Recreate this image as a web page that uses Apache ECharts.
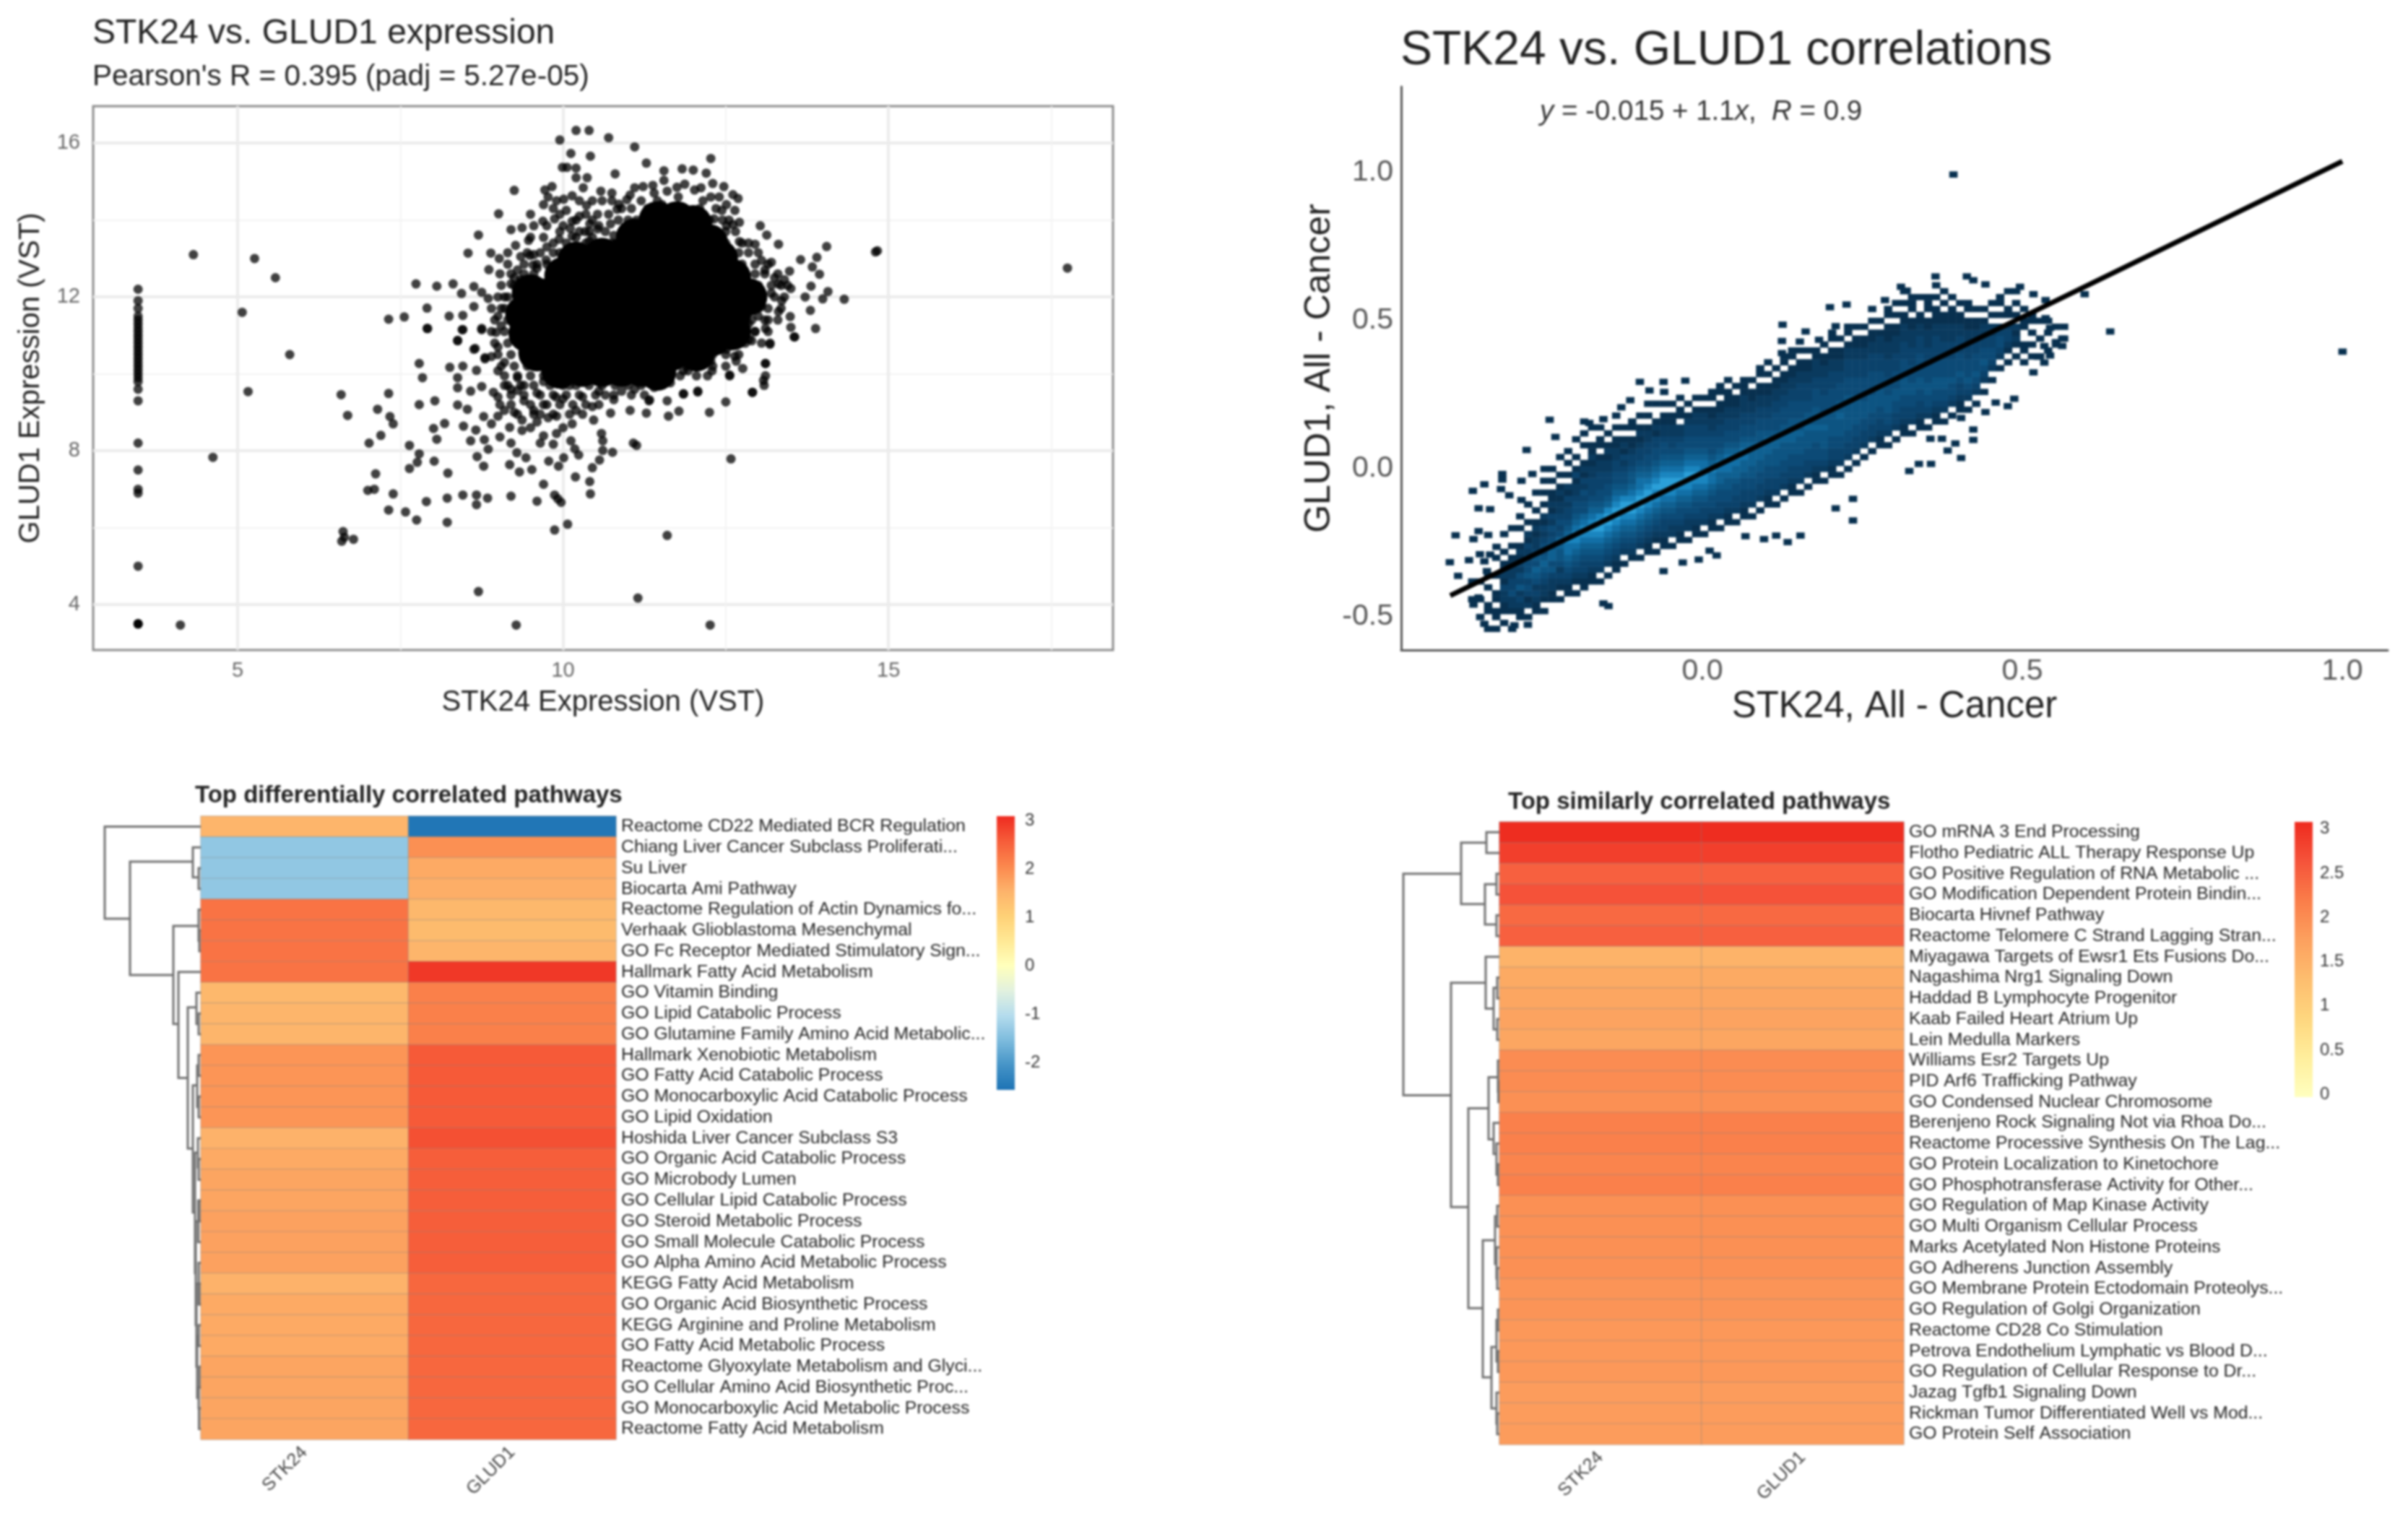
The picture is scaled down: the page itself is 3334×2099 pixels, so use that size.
<!DOCTYPE html>
<html><head><meta charset="utf-8">
<style>html,body{margin:0;padding:0;background:#fff}#c{width:3334px;height:2099px;filter:blur(1.4px)}</style>
<script src="https://cdn.jsdelivr.net/npm/echarts@6/dist/echarts.min.js"></script>
</head><body><div id="c"></div>
<script>
// ---------- Panel A: expression scatter ----------
const exprXTicks=[5,10,15], exprXMinor=[7.5,12.5,17.5], exprYTicks=[4,8,12,16], exprYMinor=[6,10,14];
const zeroColumnX=3.47;
const zeroColumnY=[12.2,11.9,11.7,11.5,11.4,11.3,11.2,11.1,11.0,10.9,10.8,10.7,10.6,10.5,10.4,10.3,10.2,10.1,10.0,9.9,9.8,9.6,9.3,8.2,7.5,7.0,6.9,5.0,3.5,3.5,3.5];
const exprOutliers=[[4.32,13.1],[5.26,13.0],[5.58,12.5],[5.07,11.6],[5.8,10.5],[5.16,9.54],[4.62,7.83],[4.12,3.47],[9.28,3.47],[12.26,3.47],[8.7,4.34],[11.15,4.17],[11.6,5.8],[14.8,13.17],[14.83,13.2],[17.75,12.75],[14.32,11.94],[6.59,9.46],[6.69,8.92],[6.62,5.9],[6.64,5.75],[6.6,5.65],[6.78,5.7]];
const exprFringeLow=[[7.91,11.18],[8.38,10.86],[8.46,11.15],[8.75,11.15],[8.63,10.64],[8.8,10.39],[7.79,10.27],[7.84,9.9],[8.26,10.17],[8.46,10.2],[8.67,10.09],[8.38,9.9],[8.38,9.64],[8.58,9.55],[8.75,9.67],[8.93,9.52],[9.03,9.2],[7.32,9.49],[7.15,9.08],[7.79,9.2],[8.03,9.3],[8.38,9.19],[8.53,9.08],[7.34,8.89],[7.39,8.7],[7.2,8.4],[7.02,8.2],[8.18,8.71],[8.01,8.58],[8.06,8.3],[8.47,8.64],[8.66,8.54],[8.78,8.89],[8.58,8.26],[8.79,8.29],[7.64,8.14],[7.79,7.92],[7.76,7.7],[7.64,7.54],[8.02,7.73],[8.23,7.42],[7.12,7.4],[7.1,7.0],[7.0,6.97],[7.39,6.88],[7.32,6.46],[7.58,6.41],[7.75,6.2],[7.9,6.68],[8.22,6.14],[8.22,6.77],[8.46,6.85],[8.67,6.85],[8.67,6.6],[8.84,6.77],[9.2,6.82],[9.6,6.69],[9.87,6.85],[9.97,6.66],[9.92,6.75],[9.87,5.94],[10.07,6.09],[9.7,7.13],[10.19,7.32],[10.42,6.88],[10.41,7.2],[10.45,7.56],[10.56,7.76],[10.61,8.01],[10.76,7.96],[11.13,8.14],[11.08,8.2],[10.59,8.45],[10.61,8.26],[10.47,8.8],[10.24,7.89],[10.18,8.05],[10.12,8.26],[10.01,7.82],[9.93,7.6],[9.78,7.73],[9.52,7.51],[9.33,7.45],[9.18,7.64],[9.43,7.82],[9.29,7.95],[8.78,7.6],[8.68,7.85],[8.85,8.04],[9.03,8.36],[9.18,8.61],[9.37,8.53],[9.2,8.2],[9.65,8.2],[9.85,8.17],[9.7,8.39],[9.77,8.86],[10.14,8.7],[9.37,8.8],[9.1,9.05],[11.03,9.05],[11.28,8.98],[11.32,9.3],[10.78,9.33],[10.73,8.98],[11.62,8.9],[11.78,9.03],[12.25,9.0],[12.5,9.27],[12.91,9.52],[13.09,9.7],[13.11,9.95],[12.56,9.95],[12.07,9.53],[11.85,9.48],[12.58,7.79],[13.11,10.27],[13.18,10.77],[13.56,10.96],[13.88,11.18],[12.9,10.86],[12.64,10.46],[12.29,10.08],[11.85,10.08],[11.65,9.77],[9.0,9.4],[9.2,9.6],[9.4,9.3],[9.55,9.05],[9.6,9.5],[9.75,9.2],[9.9,8.9],[10.0,9.35],[10.2,9.05],[10.3,9.4],[10.45,9.15],[10.55,9.55],[9.5,8.6],[9.6,8.75],[9.9,8.45],[10.0,8.6],[9.25,9.0],[8.9,8.7],[9.0,8.9],[9.4,9.7],[9.7,9.8],[10.1,9.7],[10.4,9.7],[10.9,9.55],[11.1,9.6],[11.4,9.65],[11.6,9.3]];
const exprFringeHigh=[[13.03,13.85],[13.13,13.61],[12.95,13.37],[13.31,13.37],[14.05,13.31],[13.65,12.97],[13.9,13.03],[13.83,12.78],[13.94,12.59],[13.48,12.67],[13.81,12.28],[14.07,12.14],[13.72,12.0],[13.99,11.95],[13.31,12.34],[13.36,11.9],[13.5,12.22],[13.31,11.62],[13.49,11.49],[13.8,11.65],[13.5,11.21],[13.55,10.96],[13.18,10.8],[13.11,11.18],[12.86,10.9],[12.71,11.09],[13.11,10.27],[13.08,9.83],[12.91,9.52],[12.56,9.97],[12.07,9.55],[12.61,14.66],[12.69,14.56],[12.47,14.87],[12.12,14.84],[11.87,14.93],[11.55,15.03],[11.38,14.9],[11.1,14.84],[10.58,14.75],[10.31,14.84],[9.83,14.87],[9.72,14.78],[9.77,14.6],[10.01,14.54],[10.14,14.63],[10.36,14.38],[10.53,14.15],[10.86,14.41],[10.98,14.53],[9.69,13.97],[9.87,14.03],[10.14,13.97],[10.11,13.78],[10.41,13.9],[10.73,13.9],[12.61,13.88],[12.71,13.94],[12.51,13.85],[12.64,14.25],[12.44,14.25],[12.32,14.03],[12.71,13.44],[10.2,16.33],[10.4,16.33],[10.7,16.14],[9.95,16.08],[11.1,15.9],[10.12,15.73],[10.42,15.66],[11.28,15.48],[12.27,15.6],[10.06,15.37],[9.99,15.37],[10.2,15.35],[10.8,15.2],[11.55,15.28],[11.83,15.33],[12.0,15.3],[12.2,15.22],[10.2,15.1],[10.37,15.1],[9.25,14.77],[9.01,14.16],[8.7,13.61],[8.54,13.14],[8.89,13.14],[9.2,13.75],[9.37,13.8],[9.47,13.47],[9.27,13.34],[9.02,13.0],[9.15,13.15],[8.86,12.71],[8.63,12.27],[8.44,12.09],[8.31,12.34],[8.06,12.28],[7.74,12.34],[8.75,12.12],[8.85,11.96],[8.63,11.75],[8.25,11.5],[8.46,11.52],[7.91,11.71],[7.92,11.18],[7.32,11.42],[7.56,11.48],[8.75,11.18],[8.38,10.87],[8.45,11.15],[8.65,10.66],[8.8,10.42],[9.03,12.6],[9.2,12.34],[9.49,13.08],[9.74,12.96],[9.3,12.7],[9.54,12.83],[9.0,11.5],[8.97,11.08],[8.9,10.45],[9.0,10.08],[9.1,9.7],[9.3,9.57],[9.89,9.4],[10.78,9.45],[11.33,9.32],[11.85,9.48],[11.62,9.83],[11.92,10.08],[12.27,10.33],[12.51,10.64],[12.22,9.95],[12.66,10.33],[12.76,10.14],[9.94,13.5],[10.14,13.58],[10.34,13.7],[10.53,13.77],[10.63,13.33],[10.44,13.2],[10.78,13.6],[11.03,13.77],[11.13,14.0],[11.28,14.2],[11.52,14.4],[11.77,14.6],[12.02,14.78],[12.27,14.6],[12.51,14.4],[10.83,14.28],[11.03,14.65],[11.23,14.87],[9.75,13.3],[9.95,13.15],[10.2,13.3],[10.4,13.45],[9.85,14.3],[10.05,14.25],[10.25,14.1],[9.7,14.4],[10.6,14.5],[10.75,14.7],[11.4,14.7],[11.6,14.75],[11.75,14.85],[12.3,14.95],[12.15,14.5],[12.4,14.6],[9.55,13.1],[9.35,13.05],[9.6,12.75],[9.25,12.5],[9.1,12.0],[9.05,11.7],[9.05,11.25],[9.0,10.7],[9.1,10.3],[9.3,9.9],[13.2,12.9],[13.1,12.7],[13.25,12.5],[13.05,12.95],[13.2,12.1],[13.0,11.5],[13.05,11.75],[13.15,11.4],[12.95,11.1],[12.85,11.3]];
// dense ring around the core: [y, [x, x, ...]]
const exprHaloRows=[[14.5,[9.9,10.25,10.45,10.75,11.2,11.45]],[14.3,[10.9,11.05,11.3,11.55,11.75,12.1,12.35]],[14.15,[9.5,9.95,10.35,10.7]],[14.0,[10.2,10.45,10.85,11.0,12.25,12.45,12.55]],[13.85,[9.55,9.75,10.0,10.55]],[13.7,[9.95,10.25,10.4,10.65,10.9,12.5,12.65]],[13.55,[9.5,9.7,10.2,10.45]],[13.4,[9.85,10.05,10.35,10.55,10.75,12.5,12.75,12.85]],[13.15,[9.45,9.65,9.85,10.05,10.25,12.7,12.85,13.0]],[12.85,[9.15,9.4,9.6,9.75,12.75,12.95,13.15]],[12.6,[9.2,9.4,9.55,12.95,13.1,13.3]],[12.45,[9.35,9.5,13.4]],[12.3,[9.05,9.25,9.4,13.0,13.2,13.35,13.45]],[12.0,[9.0,9.15,9.3,13.05,13.25,13.4]],[11.7,[8.9,9.1,9.25,13.0,13.15,13.35]],[11.4,[8.95,9.15,9.3,12.9,13.1,13.3]],[11.1,[8.9,9.1,9.3,12.7,12.95,13.15]],[10.8,[8.95,9.15,9.35,12.6,12.8,13.05]],[10.5,[9.0,9.2,9.4,9.55,12.3,12.5,12.7]],[10.2,[9.05,9.25,9.45,9.7,9.9,11.9,12.1,12.3,12.5]],[9.95,[9.1,9.3,9.5,9.7,9.95,10.15,11.45,11.65,11.8,12.05]],[9.7,[9.15,9.35,9.55,9.8,10.0,10.2,10.6,10.8,11.0,11.2,11.45]],[9.45,[9.2,9.4,9.65,9.85,10.05,10.25,10.5,10.65,11.05,11.25]],[9.2,[9.2,9.5,9.7,9.95,10.15,10.35,10.55]],[8.95,[9.3,9.55,9.65,9.85,10.1,10.3]]];
const exprCore=[[11.45,14.0],[11.75,14.0],[12.0,13.9],[11.1,13.55],[11.4,13.55],[11.7,13.55],[12.0,13.5],[12.25,13.4],[10.2,12.95],[10.6,13.05],[10.9,13.05],[11.2,13.05],[11.5,13.05],[11.8,13.05],[12.1,13.05],[12.4,13.0],[10.0,12.55],[10.3,12.55],[10.6,12.55],[10.9,12.55],[11.2,12.55],[11.5,12.55],[11.8,12.55],[12.1,12.55],[12.4,12.55],[12.6,12.5],[9.5,12.1],[9.65,12.0],[9.95,12.05],[10.25,12.05],[10.55,12.05],[10.85,12.05],[11.15,12.05],[11.45,12.05],[11.75,12.05],[12.05,12.05],[12.35,12.05],[12.65,12.05],[12.85,12.0],[9.4,11.55],[9.6,11.5],[9.9,11.55],[10.2,11.55],[10.5,11.55],[10.8,11.55],[11.1,11.55],[11.4,11.55],[11.7,11.55],[12.0,11.55],[12.3,11.55],[12.6,11.55],[9.45,11.05],[9.65,11.05],[9.95,11.05],[10.25,11.05],[10.55,11.05],[10.85,11.05],[11.15,11.05],[11.45,11.05],[11.75,11.05],[12.05,11.05],[12.3,10.95],[12.6,11.1],[9.6,10.55],[9.85,10.55],[10.15,10.55],[10.45,10.55],[10.75,10.55],[11.05,10.55],[11.35,10.55],[11.65,10.55],[12.05,10.55],[9.95,10.1],[10.3,10.15],[10.6,10.15],[10.9,10.15],[11.2,10.15],[11.45,10.05]];

// ---------- Panel B: correlation density ----------
const corrXTicks=[0,0.5,1], corrYTicks=[-0.5,0,0.5,1];
const fitLine=[[-0.394,-0.428],[1.0,1.038]];
const densityLevelColors=['#08304f','#0a3a5e','#0b426b','#0c4a76','#0d5482','#0f6091','#126fa6','#1a85bf','#2a9fd8'];
const densityX0=-0.36, densityY0=-0.56, densityDX=0.0125, densityDY=0.02;
// one entry per x bin: first y bin, then a density digit per y bin (0 = empty)
const densityColumns=[[6,"1001"],[3,"10010010"],[1,"1001100101"],[1,"10110110010010"],[2,"1011223122101001"],[1,"100122433221101001"],[2,"0112325342312100101"],[3,"10213435443231201001"],[3,"0112324564532212101001"],[4,"10122345654432312010101"],[5,"011223546654342312110101"],[6,"1012324556643432212101001"],[6,"01123456778654332312010101"],[7,"101234567887654432213101001"],[8,"11233456788764434231210010101"],[8,"0112345678987654333221211001"],[9,"1023456789986544333221011 01".replace(" ","")],[10,"1023456789986544332212101"],[11,"112345678998765443322110101"],[12,"102345678998654432312101"],[12,"0123456789987655433211011"],[13,"1023456789987765433212101"],[13,"011234567899876544332210101"],[14,"101234567889876544331210 01".replace(" ","")],[14,"0112334567899876544322110101"],[15,"10223456789987654332211010"],[15,"011234456789876544322011010"],[16,"1022345678898765443321010"],[16,"01123445678987654433221010"],[17,"102334567887765443322101"],[17,"0112344567786544432211011"],[18,"1023344566776544332211011"],[18,"01123445567776544332211101"],[19,"102334456677654433221101"],[19,"0112334456677654433222111"],[20,"102334455666654433221101"],[21,"1023344556665544332211011"],[21,"01123344556665443322110101"],[22,"102334455566544433221101"],[23,"1023344555665444332211011"],[23,"01123344556655444332211011"],[24,"1023344555655444333221101"],[25,"102334455565544333221101"],[25,"0112344455655544433222110"],[26,"102344555655444333221101"],[26,"01123344555554443332211011"],[27,"102334455565544433221101"],[28,"1023344555555444333221011"],[29,"102334455555444333221101"],[30,"10233445554444333221101"],[31,"1023344555444433322110101"],[31,"01123344555444333222101"],[32,"102344555444333222111011"],[33,"102334455444333222110101"],[33,"01123344555444333222110101"],[34,"102334455444333222110111"],[34,"011233445544443332211001"],[35,"10234455444333222110111"],[35,"0112344554443333221110101"],[36,"10234455444333222110101"],[37,"102344544433322211101"],[37,"01123345444333221101"],[38,"1023454443332211011"],[39,"10234544433221101"],[41,"1023454433221010"],[43,"10234433220101"],[45,"1023443201011"],[46,"1012332011001"],[47,"101212010101"],[46,"1011001101"],[47,"10101011"],[46,"01001001"],[48,"100101"],[49,"1001"],[50,"101"]];
const densityStrays=[[0.392,0.994],[0.637,0.464],[1.0,0.396],[0.597,0.59],[-0.239,0.166],[-0.275,0.064],[-0.313,-0.017],[-0.313,-0.036],[-0.341,-0.052],[-0.359,-0.074],[-0.315,-0.068],[-0.283,-0.04],[-0.266,-0.017],[-0.247,0],[-0.35,-0.133],[-0.332,-0.136],[-0.302,-0.089],[-0.283,-0.105],[-0.386,-0.224],[-0.35,-0.21],[-0.335,-0.223],[-0.358,-0.237],[-0.322,-0.263],[-0.348,-0.288],[-0.332,-0.289],[-0.341,-0.312],[-0.395,-0.315],[-0.365,-0.308],[-0.382,-0.361],[-0.337,-0.345],[-0.358,-0.458],[-0.35,-0.434],[-0.341,-0.523],[-0.294,-0.528],[-0.273,-0.526],[-0.147,-0.463],[-0.155,-0.454],[-0.061,-0.345],[0.022,-0.292],[0.011,-0.276],[-0.006,-0.306],[-0.031,-0.316],[0.153,-0.225],[0.133,-0.247],[0.115,-0.225],[0.096,-0.237],[0.067,-0.227],[-0.098,0.294],[-0.061,0.294],[-0.027,0.298],[-0.177,0.155],[-0.23,0.108],[-0.155,0.168],[-0.127,0.208],[-0.113,0.232],[-0.083,0.265],[0.364,0.65],[0.413,0.65],[0.423,0.637],[0.442,0.623],[0.496,0.615],[0.517,0.59],[0.536,0.57],[0.536,0.509],[0.543,0.476],[0.562,0.44],[0.552,0.428],[0.562,0.415],[0.534,0.415],[0.543,0.383],[0.524,0.379],[0.534,0.359],[0.517,0.326],[0.487,0.237],[0.477,0.212],[0.458,0.224],[0.442,0.192],[0.423,0.133],[0.423,0.098],[0.404,0.172],[0.395,0.086],[0.404,0.037],[0.383,0.062],[0.357,0.017],[0.338,0.017],[0.323,-0.007],[0.374,0.102],[0.356,0.102],[0.235,-0.101],[0.208,-0.133],[0.235,-0.174],[0.285,0.57],[0.225,0.555],[0.199,0.546],[0.161,0.464],[0.125,0.487],[0.208,0.482],[0.152,0.43],[0.124,0.432],[0.124,0.391],[0.182,0.436],[0.31,0.615],[0.319,0.602]];

// ---------- Panel C: differential pathways ----------
const heatColumns=['STK24','GLUD1'];
const diffPathways=['Reactome CD22 Mediated BCR Regulation','Chiang Liver Cancer Subclass Proliferati...','Su Liver','Biocarta Ami Pathway','Reactome Regulation of Actin Dynamics fo...','Verhaak Glioblastoma Mesenchymal','GO Fc Receptor Mediated Stimulatory Sign...','Hallmark Fatty Acid Metabolism','GO Vitamin Binding','GO Lipid Catabolic Process','GO Glutamine Family Amino Acid Metabolic...','Hallmark Xenobiotic Metabolism','GO Fatty Acid Catabolic Process','GO Monocarboxylic Acid Catabolic Process','GO Lipid Oxidation','Hoshida Liver Cancer Subclass S3','GO Organic Acid Catabolic Process','GO Microbody Lumen','GO Cellular Lipid Catabolic Process','GO Steroid Metabolic Process','GO Small Molecule Catabolic Process','GO Alpha Amino Acid Metabolic Process','KEGG Fatty Acid Metabolism','GO Organic Acid Biosynthetic Process','KEGG Arginine and Proline Metabolism','GO Fatty Acid Metabolic Process','Reactome Glyoxylate Metabolism and Glyci...','GO Cellular Amino Acid Biosynthetic Proc...','GO Monocarboxylic Acid Metabolic Process','Reactome Fatty Acid Metabolism'];
const diffStk24=[1.5,-1.35,-1.35,-1.35,2.3,2.3,2.3,2.3,1.45,1.5,1.5,1.9,1.9,1.9,1.9,1.55,1.65,1.7,1.7,1.75,1.75,1.75,1.55,1.65,1.65,1.65,1.7,1.7,1.7,1.7];
const diffGlud1=[-2.5,1.95,1.65,1.6,1.45,1.4,1.5,2.95,2.15,2.15,2.15,2.6,2.6,2.6,2.6,2.7,2.55,2.55,2.55,2.55,2.55,2.55,2.45,2.45,2.45,2.45,2.45,2.45,2.45,2.45];
const diffBarRange=[-2.56,3.09], diffBarTicks=[-2,-1,0,1,2,3];
const diffColors=['#1c72b4','#4594c7','#7dbbdd','#b5dced','#e2f1de','#ffffbb','#ffe894','#fed076','#fdb26a','#fb874d','#f65c39','#ee2a20'];
// [node height, top row, top child height, bottom row, bottom child height]
const diffDendro=[[133,0.5,0,4.94,98],[98,2.19,11,7.65,38],[11,1.5,0,2.95,3],[3,2.5,0,3.5,0],[38,5.28,3,10.0,31],[3,4.5,0,6.0,2],[2,5.5,0,6.5,0],[31,7.5,0,12.6,18],[18,9.2,6,16.0,11],[6,8.5,0,10.0,3],[3,9.5,0,10.5,0],[11,12.96,5,19.08,8],[5,12.0,3,14.0,3],[3,11.5,0,12.5,0],[3,13.5,0,14.5,0],[8,16.2,4,22.0,7],[4,15.5,0,16.9,3],[3,16.5,0,17.5,0],[7,19.5,3.5,24.5,6],[3.5,18.5,0,20.5,0],[2,18.5,0,19.5,0],[6,22.5,3,26.5,5],[3,21.5,0,23.5,0],[2,22.5,0,23.5,0],[5,25.0,3,28.0,3],[3,24.5,0,25.5,0],[3,27.5,0,28.5,0],[2.5,28.5,0,29.5,0],[2,26.5,0,27.5,0]];

// ---------- Panel D: similar pathways ----------
const simPathways=['GO mRNA 3 End Processing','Flotho Pediatric ALL Therapy Response Up','GO Positive Regulation of RNA Metabolic ...','GO Modification Dependent Protein Bindin...','Biocarta Hivnef Pathway','Reactome Telomere C Strand Lagging Stran...','Miyagawa Targets of Ewsr1 Ets Fusions Do...','Nagashima Nrg1 Signaling Down','Haddad B Lymphocyte Progenitor','Kaab Failed Heart Atrium Up','Lein Medulla Markers','Williams Esr2 Targets Up','PID Arf6 Trafficking Pathway','GO Condensed Nuclear Chromosome','Berenjeno Rock Signaling Not via Rhoa Do...','Reactome Processive Synthesis On The Lag...','GO Protein Localization to Kinetochore','GO Phosphotransferase Activity for Other...','GO Regulation of Map Kinase Activity','GO Multi Organism Cellular Process','Marks Acetylated Non Histone Proteins','GO Adherens Junction Assembly','GO Membrane Protein Ectodomain Proteolys...','GO Regulation of Golgi Organization','Reactome CD28 Co Stimulation','Petrova Endothelium Lymphatic vs Blood D...','GO Regulation of Cellular Response to Dr...','Jazag Tgfb1 Signaling Down','Rickman Tumor Differentiated Well vs Mod...','GO Protein Self Association'];
const simStk24=[3.05,2.85,2.5,2.65,2.4,2.5,1.45,1.6,1.65,1.7,1.65,2.0,2.0,1.95,2.15,2.15,2.1,2.15,1.95,1.95,1.95,1.95,1.9,1.9,1.85,1.85,1.85,1.8,1.8,1.8];
const simGlud1=[3.05,2.85,2.5,2.65,2.4,2.5,1.45,1.6,1.65,1.7,1.65,2.0,2.0,1.95,2.15,2.15,2.1,2.15,1.95,1.95,1.95,1.95,1.9,1.9,1.85,1.85,1.85,1.8,1.8,1.8];
const simBarRange=[-0.03,3.08], simBarTicks=[0,0.5,1,1.5,2,2.5,3];
const simColors=['#ffffbf','#ffee9c','#fed67e','#fdbd6e','#fca05e','#fa7d49','#f5533a','#ee2a1e'];
const simDendro=[[133,2.5,53,13.17,67],[53,1.0,18,3.96,20],[18,0.5,0,1.5,0],[20,3.0,4,4.94,4],[4,2.5,0,3.5,0],[4,4.5,0,5.5,0],[67,7.75,19,18.56,43],[19,6.5,0,9.0,8],[8,8.0,3,10.0,3],[3,7.5,0,8.5,0],[3,9.5,0,10.5,0],[43,13.8,15,23.43,23],[15,12.3,2,15.3,8],[2,11.5,0,13.0,1.5],[1.5,12.5,0,13.5,0],[8,14.5,0,16.0,4],[4,15.5,0,17.0,2],[2,16.5,0,17.5,0],[23,20.16,6,26.76,11],[6,19.0,3,21.3,4],[3,18.5,0,19.5,0],[4,20.5,0,22.0,3],[3,21.5,0,22.5,0],[11,25.3,4,28.26,4],[4,24.0,2,26.0,2],[2,23.5,0,24.5,0],[2,25.5,0,26.5,0],[4,27.5,0,29.0,3],[3,28.5,0,29.5,0]];

// ---------- helpers ----------
const sans='"Liberation Sans",Arial,sans-serif';
const grids=[], xAxes=[], yAxes=[], series=[], visualMaps=[];
const addGrid=(l,t,w,h)=>{grids.push({left:l,top:t,width:w,height:h,containLabel:false});return grids.length-1;};
const addX=o=>{xAxes.push(o);return xAxes.length-1;};
const addY=o=>{yAxes.push(o);return yAxes.length-1;};

// Panel A
{
 const g=addGrid(129,147,1412,753);
 grids[g].show=true;grids[g].borderColor='#8a8a8a';grids[g].borderWidth=3;grids[g].backgroundColor='#fff';
 const xr=[2.78,18.45], yr=[2.82,16.96];
 addX({gridIndex:g,type:'value',min:xr[0],max:xr[1],position:'top',axisLine:{show:false},axisLabel:{show:false},axisTick:{show:false,customValues:exprXMinor},splitLine:{show:true,lineStyle:{color:'#f2f2f2',width:2}}});
 addY({gridIndex:g,type:'value',min:yr[0],max:yr[1],position:'right',axisLine:{show:false},axisLabel:{show:false},axisTick:{show:false,customValues:exprYMinor},splitLine:{show:true,lineStyle:{color:'#f2f2f2',width:2}}});
 const xi=addX({gridIndex:g,type:'value',min:xr[0],max:xr[1],position:'bottom',name:'STK24 Expression (VST)',nameLocation:'middle',nameGap:53,nameTextStyle:{fontFamily:sans,fontSize:40,color:'#222'},axisLine:{show:false},axisTick:{show:false,customValues:exprXTicks},axisLabel:{customValues:exprXTicks,fontFamily:sans,fontSize:29,color:'#666',margin:14},splitLine:{show:true,lineStyle:{color:'#ebebeb',width:4}}});
 const yi=addY({gridIndex:g,type:'value',min:yr[0],max:yr[1],position:'left',name:'GLUD1 Expression (VST)',nameLocation:'middle',nameGap:66,nameTextStyle:{fontFamily:sans,fontSize:40,color:'#222'},axisLine:{show:false},axisTick:{show:false,customValues:exprYTicks},axisLabel:{customValues:exprYTicks,fontFamily:sans,fontSize:29,color:'#666',margin:18},splitLine:{show:true,lineStyle:{color:'#ebebeb',width:4}}});
 const halo=[];exprHaloRows.forEach(r=>r[1].forEach(x=>halo.push([x,r[0]])));
 const pts=[...zeroColumnY.map(y=>[zeroColumnX,y]),...exprOutliers,...exprFringeLow,...exprFringeHigh,...halo];
 series.push({type:'scatter',name:'samples',xAxisIndex:xi,yAxisIndex:yi,data:pts,symbolSize:13,itemStyle:{color:'#000',opacity:0.75},silent:true,z:3});
 series.push({type:'scatter',name:'dense core',xAxisIndex:xi,yAxisIndex:yi,data:exprCore,symbolSize:52,itemStyle:{color:'#000',opacity:1},silent:true,z:4});
}
// Panel B
{
 const g=addGrid(1940,120,1366,780);
 const xi=addX({gridIndex:g,type:'value',min:-0.4707,max:1.071,name:'STK24, All - Cancer',nameLocation:'middle',nameGap:53,nameTextStyle:{fontFamily:sans,fontSize:51,color:'#222'},axisLine:{show:true,onZero:false,lineStyle:{color:'#555',width:3}},axisTick:{show:false,customValues:corrXTicks},axisLabel:{customValues:corrXTicks,fontFamily:sans,fontSize:41,color:'#555',margin:9,formatter:v=>v.toFixed(1)},splitLine:{show:false}});
 const yi=addY({gridIndex:g,type:'value',min:-0.612,max:1.29,name:'GLUD1, All - Cancer',nameLocation:'middle',nameGap:88,nameTextStyle:{fontFamily:sans,fontSize:50,color:'#222'},axisLine:{show:true,onZero:false,lineStyle:{color:'#555',width:3}},axisTick:{show:false,customValues:corrYTicks},axisLabel:{customValues:corrYTicks,fontFamily:sans,fontSize:41,color:'#555',margin:11,formatter:v=>v.toFixed(1)},splitLine:{show:false}});
 const cells=[];
 densityColumns.forEach((c,i)=>{[...c[1]].forEach((d,j)=>{if(d!=='0')cells.push([densityX0+i*densityDX,densityY0+(c[0]+j)*densityDY,+d]);});});
 densityStrays.forEach(p=>cells.push([p[0],p[1],1]));
 series.push({type:'custom',name:'density',xAxisIndex:xi,yAxisIndex:yi,data:cells,encode:{x:0,y:1},silent:true,z:3,
  renderItem:(p,api)=>{const c=api.coord([api.value(0),api.value(1)]),s=api.size([densityDX,densityDY]);
   return {type:'rect',shape:{x:c[0]-s[0]/2,y:c[1]-s[1]/2,width:s[0]+0.5,height:s[1]+0.5},style:{fill:densityLevelColors[api.value(2)-1]}};}});
 series.push({type:'line',name:'fit',xAxisIndex:xi,yAxisIndex:yi,data:fitLine,showSymbol:false,lineStyle:{color:'#000',width:7},silent:true,z:5});
}
// heatmap + dendrogram + colorbar
function heatPanel(o){
 const gh=addGrid(o.left,o.top,o.width,o.height);
 const xi=addX({gridIndex:gh,type:'category',data:heatColumns,position:'bottom',axisLine:{show:false},axisTick:{show:false},axisLabel:{rotate:45,fontFamily:sans,fontSize:25,color:'#444',margin:14},splitLine:{show:false}});
 const yi=addY({gridIndex:gh,type:'category',data:o.rows,inverse:true,position:'right',axisLine:{show:false},axisTick:{show:false},axisLabel:{interval:0,fontFamily:sans,fontSize:o.fs,color:'#222',margin:7,padding:[3,0,0,0]},splitLine:{show:false}});
 const data=[];
 o.rows.forEach((r,i)=>{data.push([0,i,o.a[i]]);data.push([1,i,o.b[i]]);});
 const si=series.length;
 series.push({type:'heatmap',xAxisIndex:xi,yAxisIndex:yi,data,silent:true,itemStyle:{borderColor:'rgba(130,130,130,0.45)',borderWidth:1},emphasis:{disabled:true}});
 visualMaps.push({type:'continuous',show:false,seriesIndex:si,min:o.range[0],max:o.range[1],inRange:{color:o.colors}});
 const gd=addGrid(o.left-138,o.top,138,o.height);
 const dx=addX({gridIndex:gd,type:'value',inverse:true,min:0,max:138,show:false});
 const dy=addY({gridIndex:gd,type:'value',inverse:true,min:0,max:o.rows.length,show:false});
 series.push({type:'custom',name:'dendrogram',xAxisIndex:dx,yAxisIndex:dy,data:o.dendro,encode:{x:[0,2,4],y:[1,3]},silent:true,clip:false,
  renderItem:(p,api)=>{const h=api.value(0),yT=api.value(1),hT=api.value(2),yB=api.value(3),hB=api.value(4);
   return {type:'polyline',shape:{points:[api.coord([hT,yT]),api.coord([h,yT]),api.coord([h,yB]),api.coord([hB,yB])]},style:{stroke:'#707070',lineWidth:3,fill:null}};}});
 const gb=addGrid(o.barLeft,o.top,25,o.barHeight);
 const bx=addX({gridIndex:gb,type:'value',min:0,max:1,show:false});
 const by=addY({gridIndex:gb,type:'value',min:o.range[0],max:o.range[1],position:'right',axisLine:{show:false},axisTick:{show:false,customValues:o.barTicks},axisLabel:{customValues:o.barTicks,fontFamily:sans,fontSize:o.barFs,color:'#333',margin:o.barMargin},splitLine:{show:false}});
 series.push({type:'custom',name:'colorbar',xAxisIndex:bx,yAxisIndex:by,data:[[0,o.range[0],1,o.range[1]]],encode:{x:[0,2],y:[1,3]},silent:true,
  renderItem:(p,api)=>{const a=api.coord([api.value(0),api.value(3)]),b=api.coord([api.value(2),api.value(1)]);
   const n=o.colors.length-1;
   return {type:'rect',shape:{x:a[0],y:a[1],width:b[0]-a[0],height:b[1]-a[1]},style:{fill:new echarts.graphic.LinearGradient(0,1,0,0,o.colors.map((c,i)=>({offset:i/n,color:c})))}};}});
}
heatPanel({left:278,top:1130,width:575,height:863,rows:diffPathways,a:diffStk24,b:diffGlud1,range:diffBarRange,colors:diffColors,dendro:diffDendro,barLeft:1380,barHeight:379,barTicks:diffBarTicks,barFs:24,barMargin:14,fs:24.8});
heatPanel({left:2076,top:1138,width:560,height:862,rows:simPathways,a:simStk24,b:simGlud1,range:simBarRange,colors:simColors,dendro:simDendro,barLeft:3177,barHeight:381,barTicks:simBarTicks,barFs:24,barMargin:10,fs:24.8});

const titles=[
 {text:'STK24 vs. GLUD1 expression',left:128,top:23,textStyle:{fontFamily:sans,fontSize:48,fontWeight:'normal',color:'#222'}},
 {text:"Pearson's R = 0.395 (padj = 5.27e-05)",left:128,top:86,textStyle:{fontFamily:sans,fontSize:40.5,fontWeight:'normal',color:'#222'}},
 {text:'STK24 vs. GLUD1 correlations',left:1939,top:38,textStyle:{fontFamily:sans,fontSize:66,fontWeight:'normal',color:'#222'}},
 {text:'{i|y} = -0.015 + 1.1{i|x},  {i|R} = 0.9',left:2132,top:136,textStyle:{fontFamily:sans,fontSize:38.5,fontWeight:'normal',color:'#333',rich:{i:{fontFamily:sans,fontSize:38.5,fontStyle:'italic',color:'#333'}}}},
 {text:'Top differentially correlated pathways',left:270,top:1085,textStyle:{fontFamily:sans,fontSize:33,fontWeight:'bold',color:'#222'}},
 {text:'Top similarly correlated pathways',left:2088,top:1094,textStyle:{fontFamily:sans,fontSize:33,fontWeight:'bold',color:'#222'}}
].map(t=>Object.assign({padding:0},t));

const chart=echarts.init(document.getElementById('c'),null,{renderer:'canvas'});
chart.setOption({animation:false,backgroundColor:'#fff',title:titles,grid:grids,xAxis:xAxes,yAxis:yAxes,visualMap:visualMaps,series});
</script></body></html>
